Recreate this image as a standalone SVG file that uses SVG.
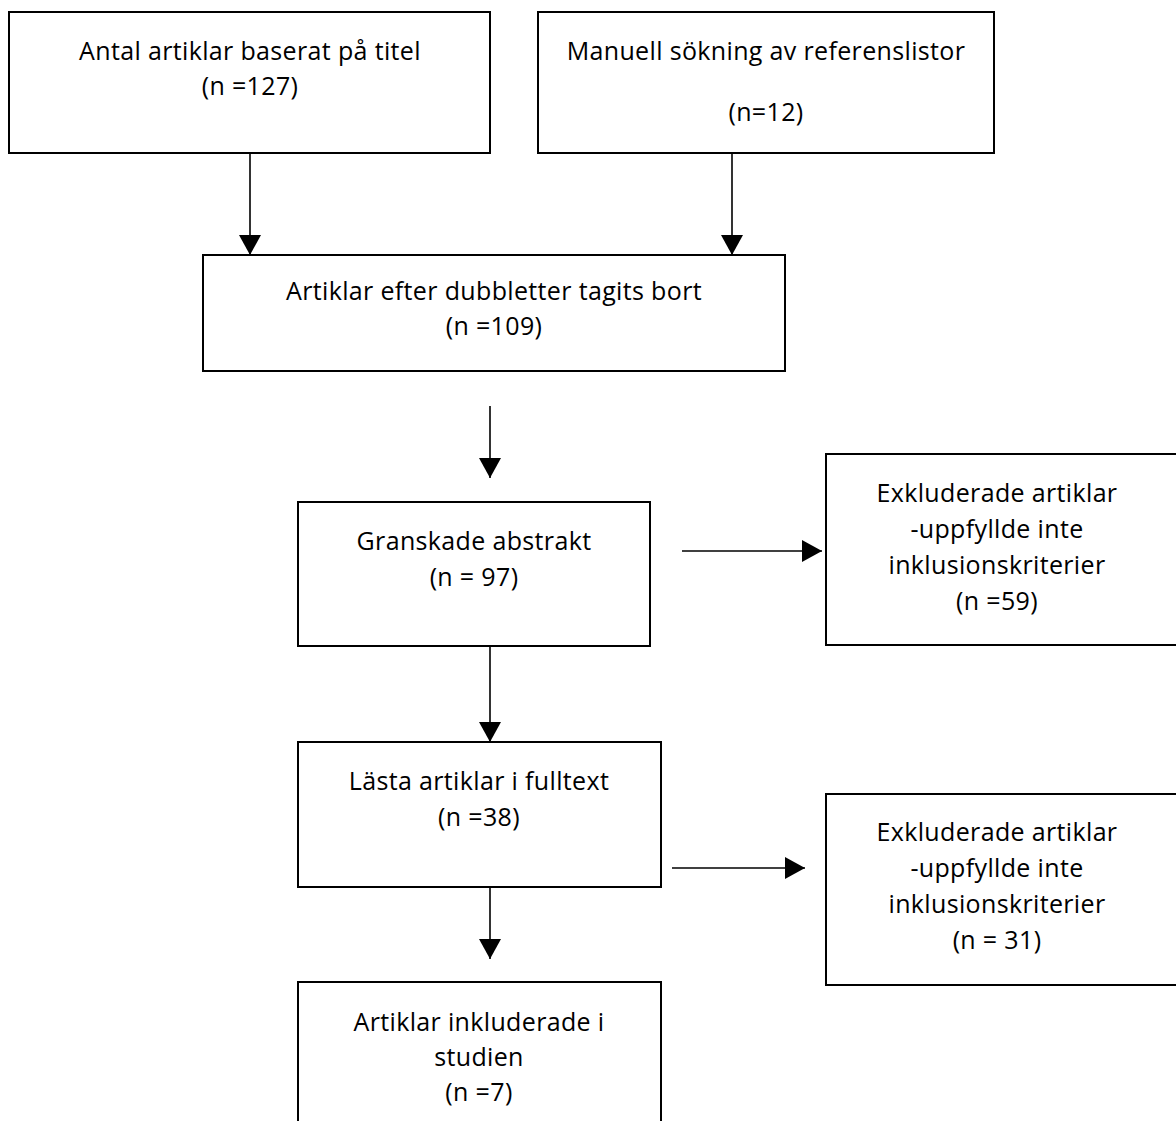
<svg xmlns="http://www.w3.org/2000/svg" width="1176" height="1121" viewBox="0 0 1176 1121">
<style>
.box{fill:#fff;stroke:#000;stroke-width:2}
.t{font-family:"Open Sans","Liberation Sans",sans-serif;font-size:25px;letter-spacing:0.35px;fill:#000;text-anchor:middle}
.c{stroke:#000;stroke-width:1.6;fill:none}
</style>
<defs>
<marker id="ah" markerUnits="userSpaceOnUse" markerWidth="22" markerHeight="22" viewBox="0 0 20 22" refX="20" refY="11" orient="auto">
<path d="M0,0 L20,11 L0,22 Z" fill="#000"/>
</marker>
</defs>
<rect width="1176" height="1121" fill="#fff"/>
<g id="connectors">
<line class="c" x1="250" y1="153" x2="250" y2="255" marker-end="url(#ah)"/>
<line class="c" x1="732" y1="153" x2="732" y2="255" marker-end="url(#ah)"/>
<line class="c" x1="490" y1="406" x2="490" y2="478" marker-end="url(#ah)"/>
<line class="c" x1="682" y1="551" x2="822" y2="551" marker-end="url(#ah)"/>
<line class="c" x1="490" y1="646" x2="490" y2="742" marker-end="url(#ah)"/>
<line class="c" x1="672" y1="868" x2="805" y2="868" marker-end="url(#ah)"/>
<line class="c" x1="490" y1="887" x2="490" y2="959" marker-end="url(#ah)"/>
</g>
<g id="n1">
<rect class="box" x="9" y="12" width="481" height="141"/>
<text class="t" x="250" y="60">Antal artiklar baserat på titel</text>
<text class="t" x="250" y="95">(n =127)</text>
</g>
<g id="n2">
<rect class="box" x="538" y="12" width="456" height="141"/>
<text class="t" x="766" y="60">Manuell sökning av referenslistor</text>
<text class="t" x="766" y="121">(n=12)</text>
</g>
<g id="n3">
<rect class="box" x="203" y="255" width="582" height="116"/>
<text class="t" x="494" y="300">Artiklar efter dubbletter tagits bort</text>
<text class="t" x="494" y="335">(n =109)</text>
</g>
<g id="n4">
<rect class="box" x="298" y="502" width="352" height="144"/>
<text class="t" x="474" y="550">Granskade abstrakt</text>
<text class="t" x="474" y="586">(n = 97)</text>
</g>
<g id="n5">
<rect class="box" x="826" y="454" width="360" height="191"/>
<text class="t" x="997" y="502">Exkluderade artiklar</text>
<text class="t" x="997" y="538">-uppfyllde inte</text>
<text class="t" x="997" y="574">inklusionskriterier</text>
<text class="t" x="997" y="610">(n =59)</text>
</g>
<g id="n6">
<rect class="box" x="298" y="742" width="363" height="145"/>
<text class="t" x="479" y="790">Lästa artiklar i fulltext</text>
<text class="t" x="479" y="826">(n =38)</text>
</g>
<g id="n7">
<rect class="box" x="826" y="794" width="360" height="191"/>
<text class="t" x="997" y="841">Exkluderade artiklar</text>
<text class="t" x="997" y="877">-uppfyllde inte</text>
<text class="t" x="997" y="913">inklusionskriterier</text>
<text class="t" x="997" y="949">(n = 31)</text>
</g>
<g id="n8">
<rect class="box" x="298" y="982" width="363" height="150"/>
<text class="t" x="479" y="1031">Artiklar inkluderade i</text>
<text class="t" x="479" y="1066">studien</text>
<text class="t" x="479" y="1101">(n =7)</text>
</g>
</svg>
